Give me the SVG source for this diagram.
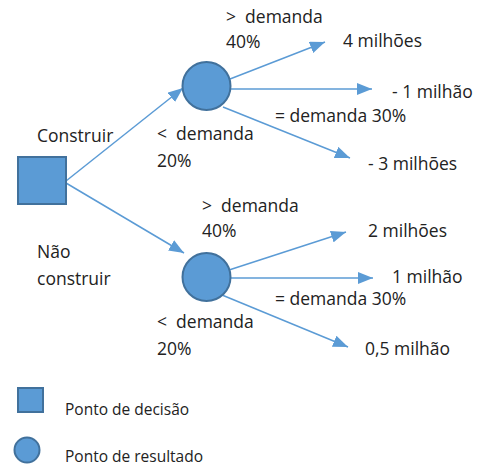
<svg xmlns="http://www.w3.org/2000/svg" width="481" height="468" viewBox="0 0 481 468">
<defs>
<style>
.t{font-family:"Open Sans","Liberation Sans",sans-serif;font-size:17.5px;fill:#222;white-space:pre}
.l{font-size:15.5px}
.n{fill:#5B9BD5;stroke:#41719C;stroke-width:2}
.c{stroke:#5B9BD5;stroke-width:1.5;fill:none;marker-end:url(#ah)}
</style>
<marker id="ah" markerUnits="userSpaceOnUse" markerWidth="16" markerHeight="12" refX="15" refY="6" orient="auto">
<path d="M0,0 L15,6 L0,12 Z" fill="#5B9BD5"/>
</marker>
</defs>
<rect width="481" height="468" fill="#fff"/>
<g id="connectors">
<line class="c" x1="66" y1="181" x2="183" y2="88"/>
<line class="c" x1="66" y1="183" x2="184" y2="253"/>
<line class="c" x1="230" y1="79" x2="325" y2="42"/>
<line class="c" x1="231" y1="89" x2="372" y2="89"/>
<line class="c" x1="223" y1="107" x2="350" y2="158"/>
<line class="c" x1="229" y1="270" x2="346" y2="232"/>
<line class="c" x1="230" y1="278" x2="373" y2="278"/>
<line class="c" x1="222" y1="295" x2="348" y2="347"/>
</g>
<g id="decision">
<rect class="n" x="18" y="157" width="48" height="47"/>
<text class="t" x="37" y="142">Construir</text>
<text class="t" x="37" y="258">Não</text>
<text class="t" x="37" y="285">construir</text>
</g>
<g id="chance1">
<circle class="n" cx="206.5" cy="86" r="24"/>
<text class="t" x="226" y="23" xml:space="preserve">&gt;  demanda</text>
<text class="t" x="226" y="48">40%</text>
<text class="t" x="275" y="122">= demanda 30%</text>
<text class="t" x="157" y="140" xml:space="preserve">&lt;  demanda</text>
<text class="t" x="157" y="167">20%</text>
</g>
<g id="outcomes1">
<text class="t" x="343" y="47">4 milhões</text>
<text class="t" x="392" y="98">- 1 milhão</text>
<text class="t" x="368" y="170">- 3 milhões</text>
</g>
<g id="chance2">
<circle class="n" cx="206.5" cy="277" r="24"/>
<text class="t" x="202" y="212" xml:space="preserve">&gt;  demanda</text>
<text class="t" x="202" y="237">40%</text>
<text class="t" x="275" y="305">= demanda 30%</text>
<text class="t" x="157" y="328" xml:space="preserve">&lt;  demanda</text>
<text class="t" x="157" y="355">20%</text>
</g>
<g id="outcomes2">
<text class="t" x="368" y="237">2 milhões</text>
<text class="t" x="392" y="283">1 milhão</text>
<text class="t" x="365" y="355">0,5 milhão</text>
</g>
<g id="legend">
<rect class="n" x="18" y="388" width="25" height="24"/>
<text class="t l" x="65" y="415">Ponto de decisão</text>
<circle class="n" cx="27" cy="450" r="12.5"/>
<text class="t l" x="65" y="462">Ponto de resultado</text>
</g>
</svg>
